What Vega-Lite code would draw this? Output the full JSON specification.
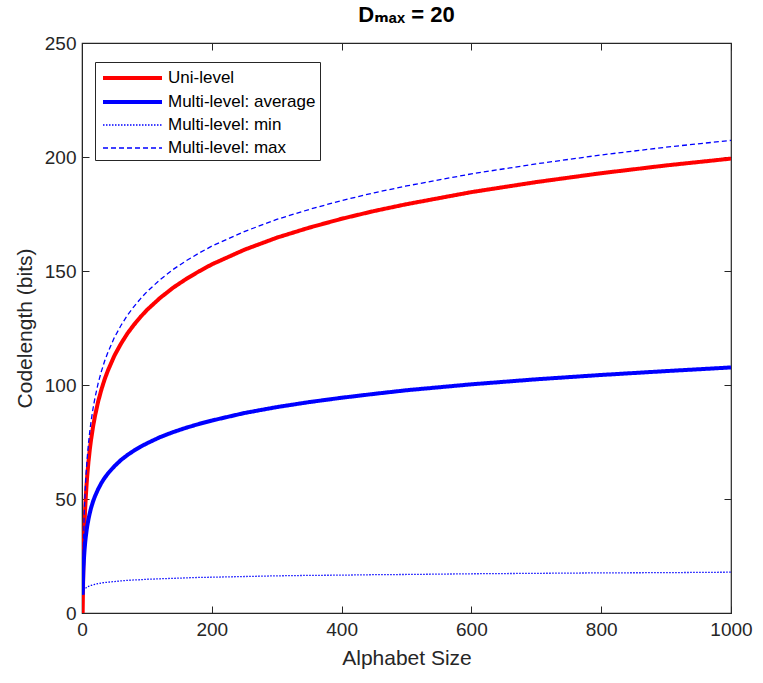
{
  "$schema": "https://vega.github.io/schema/vega-lite/v6.json",
  "width": 649,
  "height": 570,
  "autosize": {"type": "none"},
  "padding": {"left": 82, "top": 43, "right": 32, "bottom": 70},
  "background": "white",
  "title": {
    "text": "Dₘₐₓ = 20",
    "font": "Liberation Sans, DejaVu Sans",
    "fontSize": 22,
    "fontWeight": "bold",
    "color": "black",
    "anchor": "middle",
    "offset": 7
  },
  "config": {
    "view": {"stroke": "#262626", "strokeWidth": 1.2},
    "axis": {
      "labelFont": "Liberation Sans",
      "titleFont": "Liberation Sans",
      "labelFontSize": 19,
      "titleFontSize": 21,
      "labelColor": "#262626",
      "titleColor": "#262626",
      "titleFontWeight": "normal",
      "domainColor": "#262626",
      "tickColor": "#262626",
      "labelFlush": false,
      "grid": false
    },
    "legend": {
      "orient": "none",
      "legendX": 13,
      "legendY": 19,
      "title": null,
      "padding": 4,
      "rowPadding": 4,
      "symbolType": "M-0.8,0H5.1",
      "symbolSize": 400,
      "labelOffset": 45,
      "labelFont": "Liberation Sans",
      "labelFontSize": 17,
      "labelColor": "black",
      "labelLimit": 400,
      "strokeColor": "#262626",
      "fillColor": "white"
    }
  },
  "data": {
    "values": [
      {"A": 1, "Uni-level": 0, "Multi-level: average": 8, "Multi-level: min": 8.6, "Multi-level: max": 8},
      {"A": 2, "Uni-level": 20, "Multi-level: average": 18, "Multi-level: min": 9.5, "Multi-level: max": 28},
      {"A": 3, "Uni-level": 31.7, "Multi-level: average": 23.8, "Multi-level: min": 10.1, "Multi-level: max": 39.7},
      {"A": 4, "Uni-level": 40, "Multi-level: average": 28, "Multi-level: min": 10.5, "Multi-level: max": 48},
      {"A": 5, "Uni-level": 46.4, "Multi-level: average": 31.2, "Multi-level: min": 10.8, "Multi-level: max": 54.4},
      {"A": 6, "Uni-level": 51.7, "Multi-level: average": 33.8, "Multi-level: min": 11.0, "Multi-level: max": 59.7},
      {"A": 7, "Uni-level": 56.1, "Multi-level: average": 36.1, "Multi-level: min": 11.2, "Multi-level: max": 64.1},
      {"A": 8, "Uni-level": 60, "Multi-level: average": 38, "Multi-level: min": 11.4, "Multi-level: max": 68},
      {"A": 10, "Uni-level": 66.4, "Multi-level: average": 41.2, "Multi-level: min": 11.7, "Multi-level: max": 74.4},
      {"A": 12, "Uni-level": 71.7, "Multi-level: average": 43.8, "Multi-level: min": 11.9, "Multi-level: max": 79.7},
      {"A": 14, "Uni-level": 76.1, "Multi-level: average": 46.1, "Multi-level: min": 12.1, "Multi-level: max": 84.1},
      {"A": 17, "Uni-level": 81.7, "Multi-level: average": 48.9, "Multi-level: min": 12.4, "Multi-level: max": 89.7},
      {"A": 20, "Uni-level": 86.4, "Multi-level: average": 51.2, "Multi-level: min": 12.6, "Multi-level: max": 94.4},
      {"A": 25, "Uni-level": 92.9, "Multi-level: average": 54.4, "Multi-level: min": 12.9, "Multi-level: max": 100.9},
      {"A": 30, "Uni-level": 98.1, "Multi-level: average": 57.1, "Multi-level: min": 13.2, "Multi-level: max": 106.1},
      {"A": 35, "Uni-level": 102.6, "Multi-level: average": 59.3, "Multi-level: min": 13.4, "Multi-level: max": 110.6},
      {"A": 40, "Uni-level": 106.4, "Multi-level: average": 61.2, "Multi-level: min": 13.5, "Multi-level: max": 114.4},
      {"A": 50, "Uni-level": 112.9, "Multi-level: average": 64.4, "Multi-level: min": 13.8, "Multi-level: max": 120.9},
      {"A": 60, "Uni-level": 118.1, "Multi-level: average": 67.1, "Multi-level: min": 14.1, "Multi-level: max": 126.1},
      {"A": 70, "Uni-level": 122.6, "Multi-level: average": 69.3, "Multi-level: min": 14.3, "Multi-level: max": 130.6},
      {"A": 80, "Uni-level": 126.4, "Multi-level: average": 71.2, "Multi-level: min": 14.5, "Multi-level: max": 134.4},
      {"A": 90, "Uni-level": 129.8, "Multi-level: average": 72.9, "Multi-level: min": 14.6, "Multi-level: max": 137.8},
      {"A": 100, "Uni-level": 132.9, "Multi-level: average": 74.4, "Multi-level: min": 14.8, "Multi-level: max": 140.9},
      {"A": 120, "Uni-level": 138.1, "Multi-level: average": 77.1, "Multi-level: min": 15.0, "Multi-level: max": 146.1},
      {"A": 140, "Uni-level": 142.6, "Multi-level: average": 79.3, "Multi-level: min": 15.2, "Multi-level: max": 150.6},
      {"A": 160, "Uni-level": 146.4, "Multi-level: average": 81.2, "Multi-level: min": 15.4, "Multi-level: max": 154.4},
      {"A": 180, "Uni-level": 149.8, "Multi-level: average": 82.9, "Multi-level: min": 15.6, "Multi-level: max": 157.8},
      {"A": 200, "Uni-level": 152.9, "Multi-level: average": 84.4, "Multi-level: min": 15.7, "Multi-level: max": 160.9},
      {"A": 250, "Uni-level": 159.3, "Multi-level: average": 87.7, "Multi-level: min": 16.0, "Multi-level: max": 167.3},
      {"A": 300, "Uni-level": 164.6, "Multi-level: average": 90.3, "Multi-level: min": 16.3, "Multi-level: max": 172.6},
      {"A": 350, "Uni-level": 169.0, "Multi-level: average": 92.5, "Multi-level: min": 16.5, "Multi-level: max": 177.0},
      {"A": 400, "Uni-level": 172.9, "Multi-level: average": 94.4, "Multi-level: min": 16.6, "Multi-level: max": 180.9},
      {"A": 450, "Uni-level": 176.3, "Multi-level: average": 96.1, "Multi-level: min": 16.8, "Multi-level: max": 184.3},
      {"A": 500, "Uni-level": 179.3, "Multi-level: average": 97.7, "Multi-level: min": 16.9, "Multi-level: max": 187.3},
      {"A": 600, "Uni-level": 184.6, "Multi-level: average": 100.3, "Multi-level: min": 17.2, "Multi-level: max": 192.6},
      {"A": 700, "Uni-level": 189.0, "Multi-level: average": 102.5, "Multi-level: min": 17.4, "Multi-level: max": 197.0},
      {"A": 800, "Uni-level": 192.9, "Multi-level: average": 104.4, "Multi-level: min": 17.6, "Multi-level: max": 200.9},
      {"A": 900, "Uni-level": 196.3, "Multi-level: average": 106.1, "Multi-level: min": 17.7, "Multi-level: max": 204.3},
      {"A": 1000, "Uni-level": 199.3, "Multi-level: average": 107.7, "Multi-level: min": 17.9, "Multi-level: max": 207.3}
    ]
  },
  "transform": [
    {"fold": ["Uni-level", "Multi-level: average", "Multi-level: min", "Multi-level: max"], "as": ["series", "bits"]}
  ],
  "layer": [
    {
      "mark": {"type": "line", "clip": true},
      "encoding": {
        "x": {
          "field": "A", "type": "quantitative",
          "scale": {"domain": [0, 1000], "nice": false},
          "axis": {"title": "Alphabet Size", "values": [0, 200, 400, 600, 800, 1000], "format": "d", "tickSize": -7, "labelPadding": 14, "titlePadding": 8}
        },
        "y": {
          "field": "bits", "type": "quantitative",
          "scale": {"domain": [0, 250], "nice": false},
          "axis": {"title": "Codelength (bits)", "values": [0, 50, 100, 150, 200, 250], "format": "d", "tickSize": -7, "labelPadding": 13, "titlePadding": 9}
        },
        "color": {
          "field": "series", "type": "nominal",
          "scale": {"domain": ["Uni-level", "Multi-level: average", "Multi-level: min", "Multi-level: max"], "range": ["#ff0000", "#0000ff", "#0000ff", "#0000ff"]}
        },
        "strokeDash": {
          "field": "series", "type": "nominal",
          "scale": {"domain": ["Uni-level", "Multi-level: average", "Multi-level: min", "Multi-level: max"], "range": [[1, 0], [1, 0], [1.5, 1.5], [5, 3]]}
        },
        "strokeWidth": {
          "field": "series", "type": "nominal",
          "scale": {"type": "ordinal", "domain": ["Uni-level", "Multi-level: average", "Multi-level: min", "Multi-level: max"], "range": [4, 4, 1.3, 1.3]}
        }
      }
    },
    {
      "mark": {"type": "line", "strokeOpacity": 0},
      "encoding": {
        "x": {
          "field": "A", "type": "quantitative",
          "axis": {"orient": "top", "labels": false, "title": null, "domain": false, "values": [0, 200, 400, 600, 800, 1000], "tickSize": -7}
        },
        "y": {
          "field": "bits", "type": "quantitative",
          "axis": {"orient": "right", "labels": false, "title": null, "domain": false, "values": [0, 50, 100, 150, 200, 250], "tickSize": -7}
        },
        "detail": {"field": "series"}
      }
    }
  ],
  "resolve": {"axis": {"x": "independent", "y": "independent"}}
}
